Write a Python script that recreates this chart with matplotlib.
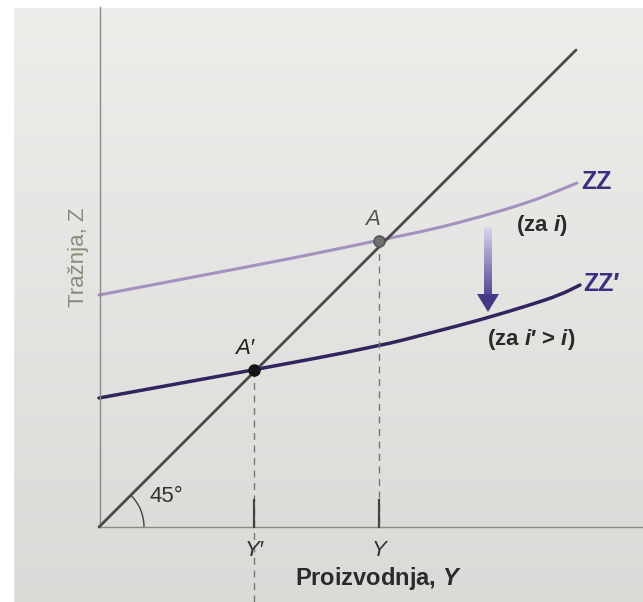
import numpy as np
import matplotlib
matplotlib.use("Agg")
import matplotlib.pyplot as plt
from matplotlib.patches import Arc, Polygon, PathPatch
from matplotlib.path import Path

plt.rcParams['font.family'] = ['Liberation Sans', 'DejaVu Sans']
plt.rcParams['mathtext.fontset'] = 'custom'
plt.rcParams['mathtext.rm'] = 'Liberation Sans'
plt.rcParams['mathtext.it'] = 'Liberation Sans:italic'
plt.rcParams['mathtext.bf'] = 'Liberation Sans:bold'
plt.rcParams['mathtext.bfit'] = 'Liberation Sans:bold:italic'

# ---- data (units: output Y and demand Z, arbitrary scale) ----
zz_x = [0, 100, 200, 281, 331, 381, 431, 461, 478]
zz_y = [232, 251, 270, 287, 297, 310, 325, 337, 344]
zzp_x = [0, 155, 281, 331, 381, 431, 461, 481]
zzp_y = [129, 157, 181, 194, 207, 222, 232, 242]
diag_end = 477
Y_eq = 280      # point A
Yp_eq = 155     # point A'
Z_eq = 286
Zp_eq = 157

W, H = 643, 602
fig = plt.figure(figsize=(W/100, H/100), dpi=100)

# paper background gradient
bg = fig.add_axes([0, 0, 1, 1])
grad = np.linspace(0, 1, 200)[:, None]
top = np.array([0.93, 0.93, 0.92])
bot = np.array([0.855, 0.855, 0.845])
img = top[None, None, :] * (1 - grad[..., None]) + bot[None, None, :] * grad[..., None]
img = np.repeat(img, 2, axis=1)
bg.imshow(img, aspect='auto', extent=[0, 1, 0, 1])
bg.axhspan(0.988, 1.0, color='white')
bg.axvspan(0, 0.02, color='white')
bg.set_xlim(0, 1); bg.set_ylim(0, 1)
bg.axis('off')

ax = fig.add_axes([0, 0, 1, 1])
ax.set_xlim(-99, W - 99)
ax.set_ylim(527 - H, 527)
ax.axis('off')
ax.patch.set_alpha(0)


def smooth_path(xs, ys):
    pts = list(zip(xs, ys))
    verts = [pts[0]]
    codes = [Path.MOVETO]
    for i in range(1, len(pts) - 1):
        mid = ((pts[i][0] + pts[i + 1][0]) / 2, (pts[i][1] + pts[i + 1][1]) / 2)
        verts += [pts[i], mid]
        codes += [Path.CURVE3, Path.CURVE3]
    verts.append(pts[-1])
    codes.append(Path.LINETO)
    return Path(verts, codes)


# axes lines
ax.plot([1, 1], [0, 520], color='#8a8a8a', lw=1.0)
ax.plot([0, 544], [0, 0], color='#8a8a8a', lw=1.0)

# 45 degree line
ax.plot([0, diag_end], [0, diag_end], color='#4a4a48', lw=2.0, solid_capstyle='round')

# ZZ curves
ax.add_patch(PathPatch(smooth_path(zz_x, zz_y), fill=False, ec='#a491c0', lw=2.2,
                       capstyle='round'))
ax.add_patch(PathPatch(smooth_path(zzp_x, zzp_y), fill=False, ec='#33245e', lw=2.5,
                       capstyle='round'))

# dashed guides
ax.plot([Y_eq, Y_eq], [Z_eq, 0], color='#777777', lw=1.0, ls=(0, (5, 4)))
ax.plot([Yp_eq, Yp_eq], [Zp_eq, 527 - H], color='#777777', lw=1.0, ls=(0, (5, 4)))
# solid ticks
for xv in (Y_eq, Yp_eq):
    ax.plot([xv, xv], [0, 27], color='#444444', lw=1.6)

# equilibrium points
ax.plot([Y_eq], [Z_eq], 'o', ms=8, color='#707070', mec='#505050', zorder=5)
ax.plot([Yp_eq], [Zp_eq], 'o', ms=8, color='#151515', zorder=5)

# 45 degree arc
ax.add_patch(Arc((0, 0), 90, 90, theta1=0, theta2=45, color='#444444', lw=1.0))
ax.text(50, 30, '45°', fontsize=16, color='#333333', va='center', ha='left')

# gradient arrow
ax_x = 389
y0, y1 = 299, 231
n = 40
c_top = np.array([0.85, 0.82, 0.92])
c_bot = np.array([0.32, 0.25, 0.56])
ys = np.linspace(y0, y1, n + 1)
for i in range(n):
    t = i / n
    c = c_top * (1 - t) + c_bot * t
    ax.fill_between([ax_x - 4, ax_x + 4], ys[i + 1], ys[i], color=c, lw=0)
ax.add_patch(Polygon([[ax_x - 11, 233], [ax_x + 11, 233], [ax_x, 215]],
                     closed=True, color=(0.28, 0.22, 0.52), lw=0))

# labels
ax.text(-20, 270, 'Tražnja, Z', rotation=90, fontsize=16, color='#8c8a78',
        ha='center', va='center')
ax.text(274, 297, 'A', fontsize=16, style='italic', color='#555555', ha='center', va='bottom')
ax.text(146, 168, 'A\u2032', fontsize=16, style='italic', color='#222222', ha='center', va='bottom')
ax.text(482, 345, 'ZZ', fontsize=18, fontweight='bold', color='#3d2f80', ha='left', va='center')
ax.text(484, 243, 'ZZ\u2032', fontsize=18, fontweight='bold', color='#3d2f80', ha='left', va='center')
ax.text(443, 301, r'(za $\mathbfit{i}$)', fontsize=16, fontweight='bold', color='#2a2a2a',
        ha='center', va='center')
ax.text(432, 187, r'(za $\mathbfit{i}$' + '\u2032 > ' + r'$\mathbfit{i}$)', fontsize=16,
        fontweight='bold', color='#2a2a2a', ha='center', va='center')
ax.text(Yp_eq, -24, 'Y\u2032', fontsize=16, style='italic', color='#333333', ha='center', va='center')
ax.text(Y_eq, -24, 'Y', fontsize=16, style='italic', color='#333333', ha='center', va='center')
ax.text(279, -52, r'Proizvodnja, $\mathbfit{Y}$', fontsize=17, fontweight='bold',
        color='#2a2a2a', ha='center', va='center')

fig.savefig('out.png', dpi=100)
